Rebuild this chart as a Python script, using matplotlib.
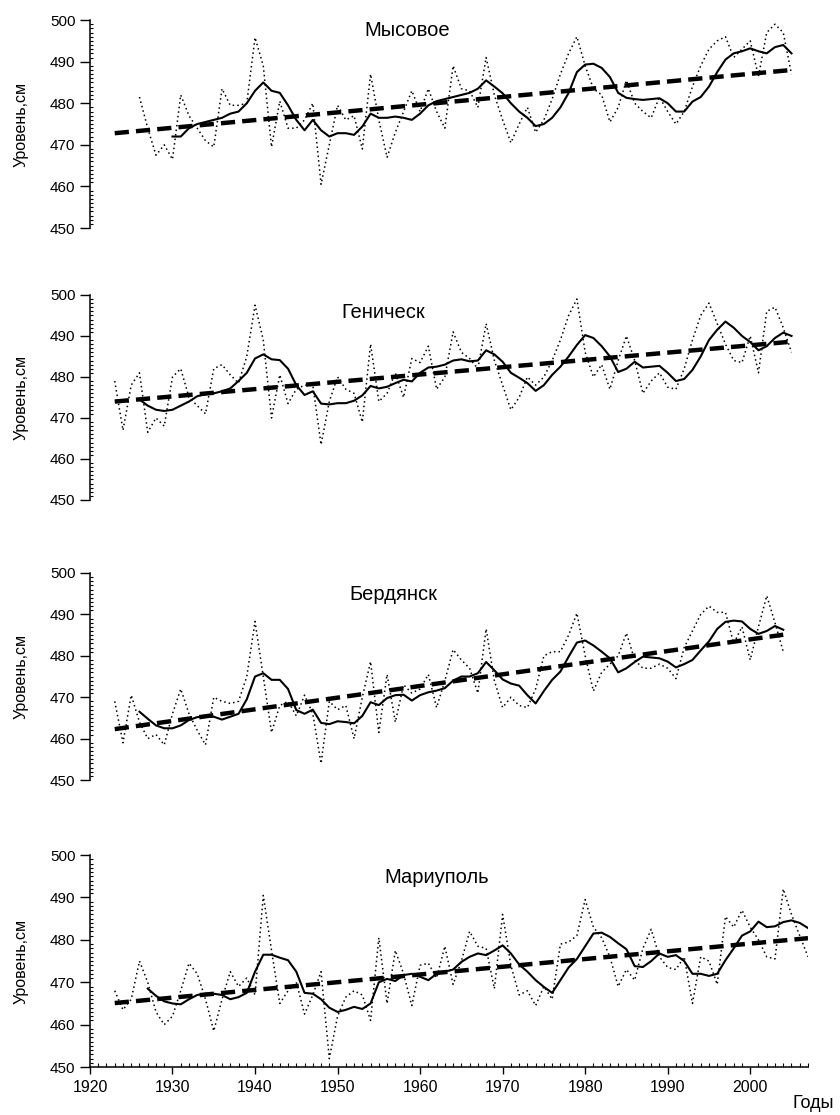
import numpy as np
import matplotlib
matplotlib.use('Agg')
import matplotlib.pyplot as plt
from matplotlib.ticker import MultipleLocator

plt.rcParams['font.family'] = ['Liberation Sans', 'DejaVu Sans']

# station names
stations = ['Мысовое', 'Геническ', 'Бердянск', 'Мариуполь']

# annual mean sea level (dotted), first year of each series
annual_start = [1926, 1923, 1923, 1923]
annual = [
    [481.5, 474, 467.5, 470, 466.5, 482, 477, 474, 471, 469.5,
     483.5, 479.5, 479.5, 480, 495.8, 489, 469.5, 480.5, 474, 474,
     476, 480, 460.5, 470, 479.5, 476, 477, 469, 487, 476,
     467, 473, 478, 483, 478, 483.5, 478, 474, 489, 483.5,
     483, 479, 491, 482, 476, 470.5, 475, 479, 473, 476,
     481, 487, 492, 496, 489, 483.5, 482, 475.5, 479, 485.5,
     480, 478, 476.5, 481.5, 478, 475, 478, 484, 489, 493,
     495, 496, 491, 493, 495, 486.5, 497, 499, 497, 487],
    [479, 467, 478, 481, 466.5, 470, 468, 480, 482, 475,
     473, 471, 482, 483, 480.5, 478.5, 485, 497.5, 489, 470,
     480.5, 473.5, 477, 478, 478, 463.5, 474, 480, 477, 476,
     469, 488, 474, 476, 481, 475, 484.5, 483.5, 487.5, 477,
     480, 491, 486, 484.5, 482, 493, 484, 478, 472, 475,
     480, 478, 480, 484, 489, 495, 499, 486, 480, 483,
     477, 484, 490, 484, 476, 479, 481, 477.5, 477, 482,
     489, 495, 498, 493, 488, 484, 483.5, 490, 481, 496,
     497, 492, 486],
    [469, 459, 470.5, 464, 460, 461, 458.5, 466, 472, 466,
     462, 458.5, 470, 469, 468.5, 469, 475, 488.3, 475, 461.5,
     468, 469, 465.5, 470.5, 466, 454, 469, 467, 468, 460,
     470, 478.6, 461.5, 475.5, 464, 473, 471, 472, 475.5, 467.5,
     474, 481.5, 479, 477, 471, 486.5, 474, 467.5, 470, 468,
     467.5, 472, 480, 481, 481, 485, 490.3, 480, 471.5, 476,
     478, 480, 485.5, 479, 477, 477, 478, 477, 474.5, 482,
     486, 490, 492, 490.5, 490.5, 483, 487, 479, 487, 494.5,
     488, 481],
    [468, 463.5, 466, 475, 470, 463, 460, 462, 468, 474.5,
     472, 466, 458.5, 466, 472.5, 469, 471, 467, 490.5, 477.5,
     465, 468, 470, 462.5, 467, 472.5, 452, 462, 466.5, 468,
     467, 461, 480.5, 465, 477.5, 472, 464.5, 474, 474.5, 471,
     478.5, 469.5, 475, 482, 478.5, 478, 468.5, 486, 474, 467,
     468, 464.5, 469, 466, 479, 479.5, 481, 489.5, 483, 480.5,
     476, 469, 473, 470.5, 478, 482.5, 476, 473.5, 473, 476,
     465, 476, 475, 469.5, 485.5, 483, 487, 483, 480, 476,
     475.5, 492, 486, 481, 476],
]

# smoothed level (solid)
smooth_start = [1930, 1926, 1926, 1927]
smooth = [
    [472, 472, 474, 475, 475.5, 476, 476.5, 477.5, 478, 480,
     483, 485, 483, 482.5, 479.5, 476, 473.5, 476, 473.5, 472,
     472.8, 472.8, 472.4, 474.4, 477.5, 476.5, 476.5, 476.8, 476.5, 476,
     477.5, 479.5, 480.5, 481, 481.5, 482, 482.5, 483.5, 485.5, 484,
     482.4, 480, 478, 476.5, 474.5, 475, 476.5, 479, 482.5, 487.5,
     489.3, 489.5, 488.5, 486.3, 482.5, 481.3, 481, 480.8, 481, 481.2,
     480, 478, 478, 480.4, 481.5, 484, 487.5, 490.5, 492, 492.5,
     493.2, 492.5, 492, 493.5, 494, 492],
    [474.5, 473, 472, 471.7, 472, 473, 474, 475.3, 475.8, 476,
     476.5, 477.2, 479, 481, 484.5, 485.5, 484.3, 484.1, 482, 478,
     475.6, 476.5, 473.5, 473.3, 473.6, 473.6, 474.2, 475.5, 477.8, 477.2,
     477.6, 478.5, 479.3, 478.9, 481, 482.3, 482.5, 483, 484, 484.3,
     483.8, 484, 486.5, 485.5, 483.7, 481, 479.8, 478.5, 476.6, 478,
     480.5, 482.5, 485, 487.8, 490.2, 489.5, 487.5, 485, 481.2, 482,
     483.7, 482.3, 482.5, 482.7, 481, 479, 479.5, 481.7, 485, 489,
     491.5, 493.5, 492, 490, 488.5, 486.5, 487.5, 489.5, 490.8, 490],
    [466.5, 464.8, 463.2, 462.5, 462.5, 463.2, 464.5, 465.2, 465.3, 465.3,
     464.6, 465.3, 466, 469.5, 475, 475.8, 474.2, 474.2, 472, 466.9,
     466, 467, 463.8, 463.5, 464.2, 464, 463.7, 465.5, 468.8, 468.1,
     469.8, 470.5, 470.6, 469.2, 470.5, 471.2, 471.6, 472.2, 474, 475,
     475, 475.8, 478.5, 476.5, 474.3, 473.3, 472.8, 470.5, 468.5, 471.5,
     474.2, 476.2, 479.8, 483.2, 483.7, 482.5, 481, 479.4, 476, 477,
     478.5, 479.8, 479.6, 479.4, 478.6, 477.2, 478, 479, 481.3, 483.5,
     486.5, 488.2, 488.5, 488.3, 486.5, 485.3, 486, 487.2, 486.3],
    [468.5, 466.8, 465.5, 465, 464.8, 466, 467, 467.3, 467.3, 467,
     466, 466.5, 467.5, 472.5, 476.5, 476.5, 475.8, 475.2, 472.5, 467.5,
     467.3, 466, 464, 463, 463.5, 464.2, 463.7, 465, 470, 470.8,
     470.3, 471.7, 472, 471.3, 470.5, 472, 472.5, 473, 474.8, 476,
     476.8, 476.4, 477.5, 478.7, 476.8, 474.2, 472.5, 470.5, 468.9, 467.5,
     470.5, 473.5, 475.5, 478.5, 481.5, 481.7, 480.7, 479.2, 477.8, 473.8,
     473.6, 475, 476.8, 476, 476.4, 475, 472, 472, 471.5, 472,
     475.2, 478, 481, 482, 484.3, 483, 483.2, 484.2, 484.6, 484,
     482.8],
]

# linear trend, end points
trend_years = [[1923, 2005], [1923, 2005], [1923, 2004], [1923, 2007]]
trend_values = [[472.8, 488.0], [474.0, 488.6], [462.3, 485.1], [465.1, 480.4]]

fig = plt.figure(figsize=(8.4, 11.15), dpi=100)

boxes = [[0.1071, 0.7955, 0.8548, 0.1865],
         [0.1071, 0.5516, 0.8548, 0.1839],
         [0.1071, 0.3004, 0.8548, 0.1857],
         [0.1071, 0.0430, 0.8548, 0.1901]]
title_pos = [(1958.4, 0.952), (1955.5, 0.912), (1956.8, 0.894), (1962.0, 0.896)]

for i in range(4):
    ax = fig.add_axes(boxes[i])
    ya = np.arange(annual_start[i], annual_start[i] + len(annual[i]))
    ys = np.arange(smooth_start[i], smooth_start[i] + len(smooth[i]))

    ax.plot(ya, annual[i], color='black', lw=1.1, linestyle=(0, (1, 2)))
    ax.plot(ys, smooth[i], color='black', lw=1.5)
    ax.plot(trend_years[i], trend_values[i], color='black', lw=3.2,
            linestyle=(0, (3.2, 1.6)), solid_capstyle='butt')

    ax.set_xlim(1920, 2007)
    ax.set_ylim(450, 500)
    ax.yaxis.set_major_locator(MultipleLocator(10))
    ax.yaxis.set_minor_locator(MultipleLocator(1))
    ax.tick_params(axis='y', which='major', direction='out', length=7.5, width=1,
                   labelsize=11, pad=3)
    ax.tick_params(axis='y', which='minor', direction='in', length=2.5, width=0.8)
    ax.spines['top'].set_visible(False)
    ax.spines['right'].set_visible(False)
    ax.spines['left'].set_linewidth(1.1)

    if i < 3:
        ax.spines['bottom'].set_visible(False)
        ax.set_xticks([])
    else:
        ax.spines['bottom'].set_linewidth(1.1)
        ax.xaxis.set_major_locator(MultipleLocator(10))
        ax.xaxis.set_minor_locator(MultipleLocator(1))
        ax.tick_params(axis='x', which='major', direction='out', length=5, width=1,
                       labelsize=11.5, pad=4)
        ax.tick_params(axis='x', which='minor', direction='in', length=3, width=0.8)

    ax.text(title_pos[i][0], title_pos[i][1], stations[i],
            transform=ax.get_xaxis_transform(), ha='center', va='center', fontsize=14.5)

    fig.text(21 / 840, boxes[i][1] + boxes[i][3] / 2, 'Уровень,см', rotation=90,
             ha='center', va='center', fontsize=11.5)

fig.text(813 / 840, 1 - 1104 / 1115, 'Годы', ha='center', va='center', fontsize=13)

fig.savefig('out.png', dpi=100)
